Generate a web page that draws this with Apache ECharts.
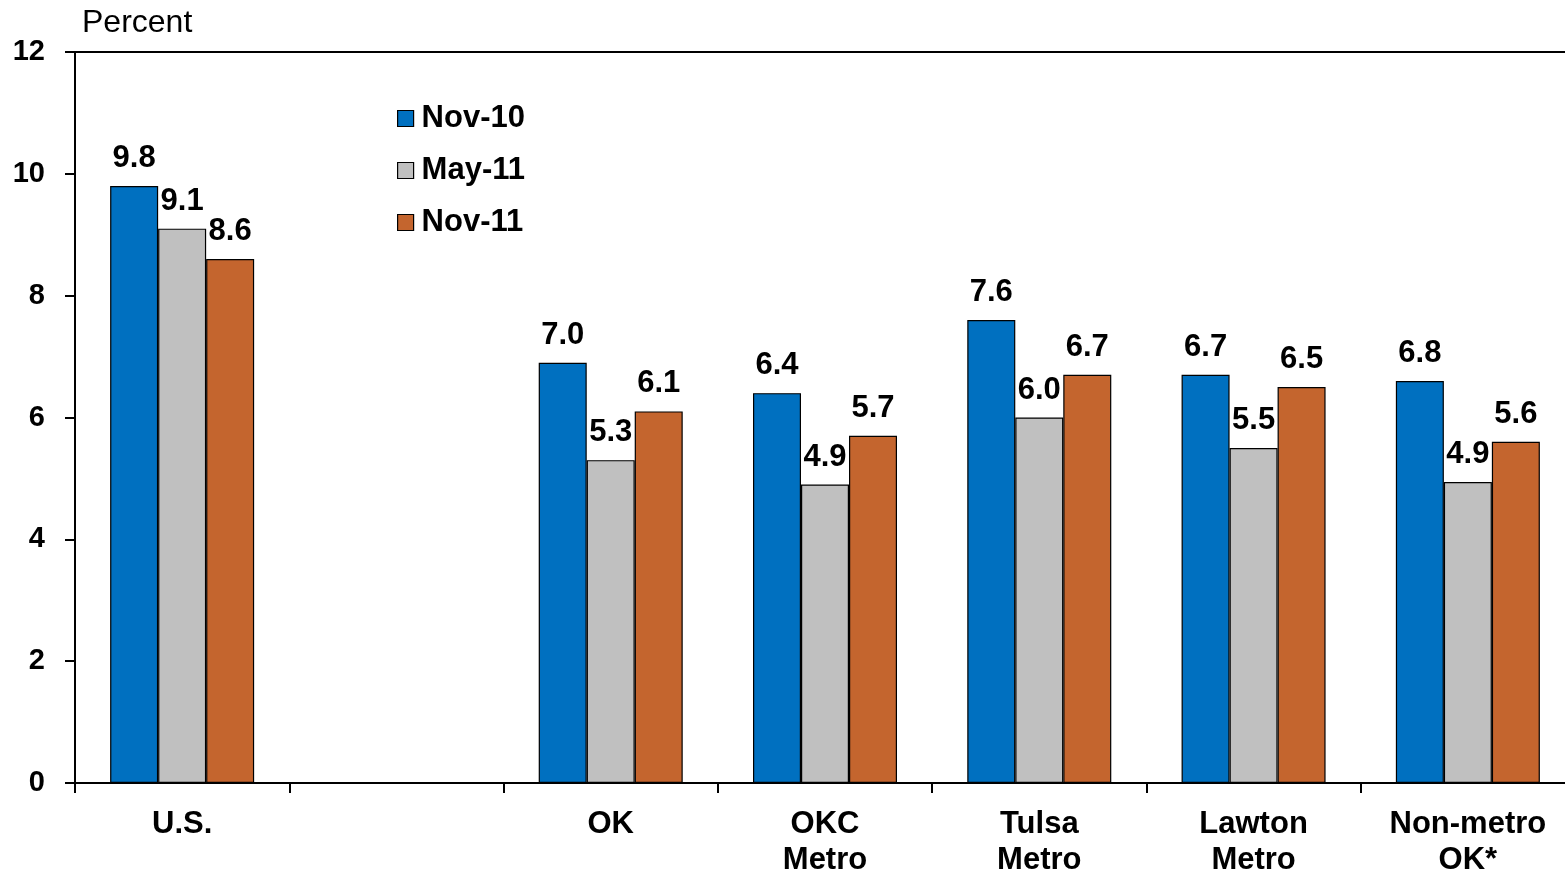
<!DOCTYPE html>
<html>
<head>
<meta charset="utf-8">
<script src="https://cdn.jsdelivr.net/npm/echarts@6/dist/echarts.min.js"></script>
<style>
    html, body { margin: 0; padding: 0; background: #fff; }
    #chart { width: 1565px; height: 873px; }
</style>
</head>
<body>
<div id="chart"></div>
<script>
// categories (second one is an empty gap slot)
const categories = ["U.S.", "", "OK", "OKC\nMetro", "Tulsa\nMetro", "Lawton\nMetro", "Non-metro\nOK*"]
const seriesNames = ["Nov-10", "May-11", "Nov-11"]

// bar heights
const nov10 = [9.8, null, 6.9, 6.4, 7.6, 6.7, 6.6]
const may11 = [9.1, null, 5.3, 4.9, 6.0, 5.5, 4.94]
const nov11 = [8.6, null, 6.1, 5.7, 6.7, 6.5, 5.6]

// printed labels (the source prints these, not always equal to bar height)
const nov10Labels = ["9.8", "", "7.0", "6.4", "7.6", "6.7", "6.8"]
const may11Labels = ["9.1", "", "5.3", "4.9", "6.0", "5.5", "4.9"]
const nov11Labels = ["8.6", "", "6.1", "5.7", "6.7", "6.5", "5.6"]

const yTicks = [0, 2, 4, 6, 8, 10, 12]

const colors = ["#0070C0", "#C0C0C0", "#C4652E"]
const font = "Arial, 'Liberation Sans', sans-serif"

let chart = echarts.init(document.getElementById("chart"), null, { renderer: "canvas" })

function makeBar(name, values, labels, color) {
    return {
        name: name,
        type: "bar",
        data: values,
        barWidth: 48,
        barGap: "0%",
        itemStyle: { color: color, borderColor: "#000", borderWidth: 1.2 },
        label: {
            show: true,
            position: "top",
            distance: 12,
            color: "#000",
            fontFamily: font,
            fontWeight: "bold",
            fontSize: 31,
            formatter: p => labels[p.dataIndex],
        },
    }
}

chart.setOption({
    animation: false,
    grid: { left: 75, top: 52, width: 1500, bottom: 90, containLabel: false, outerBoundsMode: "none" },
    legend: {
        orient: "vertical",
        left: 392,
        top: 98,
        itemWidth: 16,
        itemHeight: 16,
        itemGap: 21,
        icon: "rect",
        selectedMode: false,
        itemStyle: { borderColor: "#000", borderWidth: 1.2 },
        textStyle: { color: "#000", fontFamily: font, fontWeight: "bold", fontSize: 31, padding: [0, 0, 0, 3] },
        data: seriesNames,
    },
    xAxis: [{
        type: "category",
        data: categories,
        axisLine: { lineStyle: { color: "#000", width: 2 } },
        axisTick: { show: true, length: 10, lineStyle: { color: "#000", width: 2 } },
        axisLabel: {
            color: "#000",
            fontFamily: font,
            fontWeight: "bold",
            fontSize: 31,
            lineHeight: 36,
            margin: 23,
            interval: 0,
        },
    }, {
        type: "category",
        position: "top",
        data: categories,
        axisLine: { lineStyle: { color: "#000", width: 2 } },
        axisTick: { show: false },
        axisLabel: { show: false },
    }],
    yAxis: {
        type: "value",
        min: yTicks[0],
        max: yTicks[yTicks.length - 1],
        interval: 2,
        name: "Percent",
        nameLocation: "end",
        nameGap: 29,
        nameTextStyle: { color: "#000", fontFamily: font, fontSize: 32, align: "left", verticalAlign: "middle", padding: [0, 0, 0, 7] },
        axisLine: { show: true, lineStyle: { color: "#000", width: 2 } },
        axisTick: { show: true, length: 10, lineStyle: { color: "#000", width: 2 } },
        splitLine: { show: false },
        axisLabel: { color: "#000", fontFamily: font, fontWeight: "bold", fontSize: 29, margin: 30 },
    },
    series: [
        makeBar(seriesNames[0], nov10, nov10Labels, colors[0]),
        makeBar(seriesNames[1], may11, may11Labels, colors[1]),
        makeBar(seriesNames[2], nov11, nov11Labels, colors[2]),
    ],
})
</script>
</body>
</html>
